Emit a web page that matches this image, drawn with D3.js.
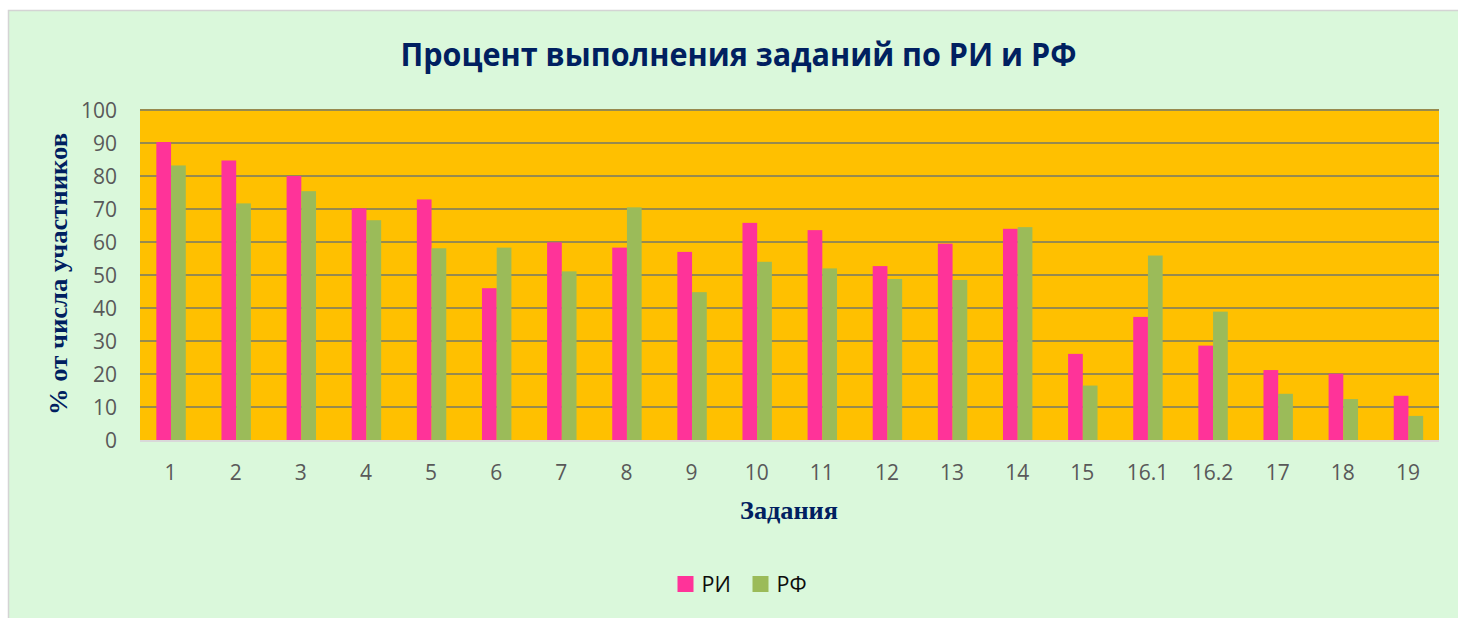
<!DOCTYPE html>
<html><head><meta charset="utf-8">
<script src="https://cdn.jsdelivr.net/npm/d3@7/dist/d3.min.js"></script>
<style>html,body{margin:0;padding:0;background:#fff;}svg{display:block;}</style>
</head><body>
<svg id="chart" width="1458" height="618"></svg>
<script>
const categories = ["1","2","3","4","5","6","7","8","9","10","11","12","13","14","15","16.1","16.2","17","18","19"];
const seriesNames = ["РИ","РФ"];
const valuesRI = [90.3,84.7,80.0,70.2,72.9,46.0,59.9,58.3,57.0,65.8,63.6,52.7,59.5,64.0,26.1,37.3,28.6,21.2,20.1,13.4];
const valuesRF = [83.2,71.7,75.4,66.6,58.1,58.3,51.1,70.5,44.8,54.0,52.0,48.8,48.5,64.5,16.5,55.9,38.9,14.0,12.4,7.3];
const yTicks = [0,10,20,30,40,50,60,70,80,90,100];
const colors = ["#ff3399","#9bbb59"];

const svg = d3.select("#chart");
const plotL = 140, plotR = 1439, pTop = 110, pBottom = 440;

// chart background
svg.append("rect").attr("x",8.5).attr("y",10.5).attr("width",1460).attr("height",620)
  .attr("fill","#daf8db").attr("stroke","#d4d4d4").attr("stroke-width",1.5);

const x0 = d3.scaleBand().domain(categories).range([138.5,1441]).paddingInner(0.548).paddingOuter(0.274);
const x1 = d3.scaleBand().domain(seriesNames).range([0,x0.bandwidth()]);
const y = d3.scaleLinear().domain([0,100]).range([pBottom,pTop]);

// plot area
svg.append("rect").attr("x",plotL).attr("y",pTop).attr("width",plotR-plotL).attr("height",pBottom-pTop).attr("fill","#ffc000");

// gridlines
svg.append("g").selectAll("line").data(yTicks.filter(d=>d>0)).join("line")
  .attr("x1",plotL).attr("x2",plotR).attr("y1",d=>y(d)).attr("y2",d=>y(d))
  .attr("stroke","#978a4e").attr("stroke-width",2);

// bars
const data = categories.map((c,i)=>({cat:c, vals:[valuesRI[i],valuesRF[i]]}));
const g = svg.append("g").selectAll("g").data(data).join("g")
  .attr("transform",d=>`translate(${x0(d.cat)},0)`);
g.selectAll("rect").data(d=>d.vals.map((v,j)=>({name:seriesNames[j],v:v,j:j}))).join("rect")
  .attr("x",d=>x1(d.name)).attr("width",x1.bandwidth())
  .attr("y",d=>y(d.v)).attr("height",d=>y(0)-y(d.v))
  .attr("fill",d=>colors[d.j]);

// bottom axis line
svg.append("line").attr("x1",plotL).attr("x2",plotR).attr("y1",pBottom+1).attr("y2",pBottom+1)
  .attr("stroke","#d9d9d9").attr("stroke-width",2);

// y axis labels
const yAxis = d3.axisLeft(y).tickValues(yTicks).tickSize(0).tickPadding(0);
const ya = svg.append("g").attr("transform","translate(117,0)").call(yAxis);
ya.select(".domain").remove();
ya.selectAll("text").attr("font-family","Open Sans").attr("font-size","21px").attr("fill","#595959").attr("dy","0.36em");

// x axis labels
const xAxis = d3.axisBottom(x0).tickSize(0).tickPadding(0);
const xa = svg.append("g").attr("transform","translate(-0.5,480)").call(xAxis);
xa.select(".domain").remove();
xa.selectAll("text").attr("font-family","Open Sans").attr("font-size","21px").attr("fill","#595959").attr("dy","0");

// title
svg.append("text").attr("x",738.5).attr("y",66).attr("text-anchor","middle")
  .attr("font-family","Open Sans").attr("font-weight","bold").attr("font-size","32.5px")
  .attr("fill","#002060").attr("textLength",676).attr("lengthAdjust","spacingAndGlyphs")
  .text("Процент выполнения заданий по РИ и РФ");

// axis titles
svg.append("text").attr("transform","translate(67,274) rotate(-90)").attr("text-anchor","middle")
  .attr("font-family","Liberation Serif").attr("font-weight","bold").attr("font-size","26px")
  .attr("fill","#002060").attr("textLength",282).attr("lengthAdjust","spacingAndGlyphs")
  .text("% от числа участников");
svg.append("text").attr("x",789).attr("y",519).attr("text-anchor","middle")
  .attr("font-family","Liberation Serif").attr("font-weight","bold").attr("font-size","26px")
  .attr("fill","#002060").attr("textLength",98).attr("lengthAdjust","spacingAndGlyphs")
  .text("Задания");

// legend
const legX = [677.5, 752.5];
const leg = svg.append("g").selectAll("g").data(seriesNames).join("g")
  .attr("transform",(d,i)=>`translate(${legX[i]},576)`);
leg.append("rect").attr("width",16).attr("height",16).attr("fill",(d,i)=>colors[i]);
leg.append("text").attr("x",24).attr("y",15.5).attr("font-family","Open Sans").attr("font-size","21.5px")
  .attr("fill","#0d0d0d").text(d=>d);
</script>
</body></html>
